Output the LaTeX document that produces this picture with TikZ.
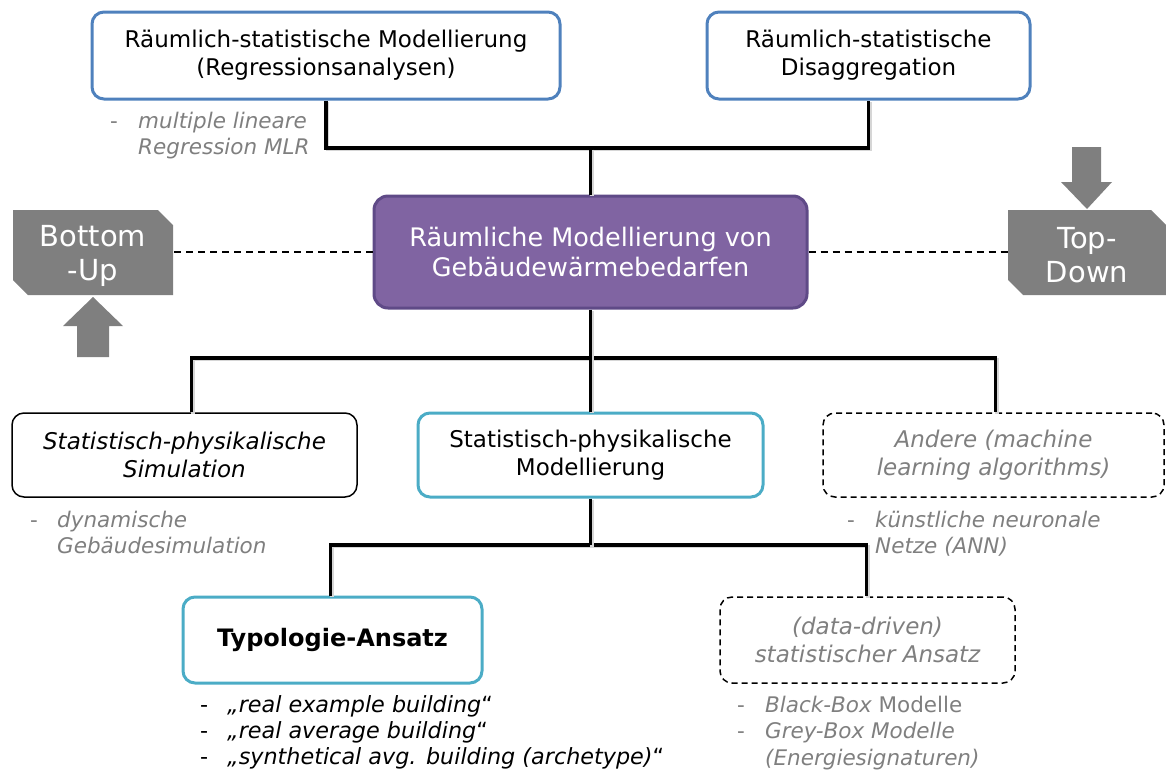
\documentclass[tikz,border=0pt]{standalone}
\usepackage{fontspec}
\setmainfont{DejaVu Sans}
\usetikzlibrary{calc}
\definecolor{frameblue}{HTML}{4F81BD}
\definecolor{framecyan}{HTML}{4BACC6}
\definecolor{violetfill}{HTML}{8064A2}
\definecolor{violetframe}{HTML}{5F4A87}
\definecolor{blockgray}{HTML}{7F7F7F}
\definecolor{notegray}{HTML}{7F7F7F}
\begin{document}
\begin{tikzpicture}[x=1pt,y=-1pt,
  box/.style={rectangle, rounded corners=12pt, align=center, inner sep=0pt,
    font=\fontsize{23}{28}\selectfont},
  bluebox/.style={box, draw=frameblue, line width=3pt},
  cyanbox/.style={box, draw=framecyan, line width=3pt},
  plainbox/.style={box, draw=black, line width=1.5pt},
  dashbox/.style={box, draw=black, line width=1.5pt, dash pattern=on 6pt off 4pt, text=notegray},
  mainbox/.style={box, rounded corners=14pt, fill=violetfill, draw=violetframe, line width=3pt,
    text=white, font=\fontsize{25.5}{30}\selectfont},
  blocklabel/.style={align=center, inner sep=0pt, text=white, font=\fontsize{29}{34}\selectfont},
  note/.style={anchor=base west, inner sep=0pt, font=\fontsize{21.5}{26.5}\selectfont},
  bignote/.style={note, font=\fontsize{22.3}{26}\selectfont},
  conn/.style={line width=3.6pt,
    preaction={draw=black!16, line width=3.6pt, transform canvas={shift={(1.5pt,-1.5pt)}}}},
  dashconn/.style={line width=1.4pt, dash pattern=on 7pt off 5pt},
]
\useasboundingbox (0,0) rectangle (1166,774);

% top level: spatial statistical approaches
\node[bluebox, minimum width=468, minimum height=87] (reg) at (326,55.5)
  {Räumlich-statistische Modellierung\\(Regressionsanalysen)};
\node[bluebox, minimum width=323, minimum height=87] (dis) at (868.5,55.5)
  {Räumlich-statistische\\Disaggregation};

% central topic
\node[mainbox, minimum width=433, minimum height=112] (main) at (590.5,252)
  {Räumliche Modellierung von\\Gebäudewärmebedarfen};

% bottom-up / top-down blocks with their arrows
\fill[blockgray] (13,210) -- (158,210) -- (173,225) -- (173,295) -- (28,295) -- (13,280) -- cycle;
\node[blocklabel, minimum width=160, minimum height=85] (bu) at (93,255.5) {Bottom\\-Up};
\fill[blockgray] (93,297) -- (123,326) -- (109,326) -- (109,357) -- (77,357) -- (77,326) -- (63,326) -- cycle;

\fill[blockgray] (1008,210) -- (1151,210) -- (1166,225) -- (1166,295) -- (1023,295) -- (1008,280) -- cycle;
\node[blocklabel, minimum width=158, minimum height=85] (td) at (1087,255.5) {Top-\\Down};
\fill[blockgray] (1072,147) -- (1101,147) -- (1101,182) -- (1112,182) -- (1087,209) -- (1061,182) -- (1072,182) -- cycle;

% second level
\node[plainbox, minimum width=345, minimum height=84] (sim) at (184.5,455)
  {\itshape Statistisch-physikalische\\\itshape Simulation};
\node[cyanbox, minimum width=345, minimum height=84] (mod) at (590.5,455)
  {Statistisch-physikalische\\Modellierung};
\node[dashbox, minimum width=341, minimum height=84] (ml) at (993.5,455)
  {\itshape Andere (machine\\\itshape learning algorithms)};

% third level
\node[cyanbox, minimum width=299, minimum height=86, font=\fontsize{24}{28}\selectfont] (typ) at (332.5,640)
  {\bfseries Typologie-Ansatz};
\node[dashbox, minimum width=295, minimum height=86] (dat) at (867.5,640)
  {\itshape (data-driven)\\\itshape statistischer Ansatz};

% junctions of the tree connectors
\coordinate (jtop) at (590.5,148);
\coordinate (jmid) at (590.5,358);
\coordinate (jbot) at (590.5,545);

\draw[conn] (reg.south) |- (jtop) -| (dis.south);
\draw[conn] (jtop) -- (main.north);
\draw[conn] ([xshift=7pt]sim.north) |- (jmid) -| ([xshift=2pt]ml.north);
\draw[conn] (main.south) -- (mod.north);
\draw[conn] ([xshift=-2pt]typ.north) |- (jbot) -| ([xshift=-1pt]dat.north);
\draw[conn] (mod.south) -- (jbot);

% horizontal dashed links to the bottom-up / top-down blocks
\draw[dashconn] (main.west) -- (main.west -| bu.east);
\draw[dashconn] (main.east) -- (main.east -| td.west);

% annotations
\node[note, text=notegray] (nreg) at (110,128)
  {\begin{tabular}[t]{@{}p{28pt}@{}l@{}}-&\itshape multiple lineare\\&\itshape Regression MLR\end{tabular}};
\node[note, text=notegray] (nsim) at (30,527)
  {\begin{tabular}[t]{@{}p{27pt}@{}l@{}}-&\itshape dynamische\\&\itshape Gebäudesimulation\end{tabular}};
\node[note, text=notegray] (nml) at (847,527)
  {\begin{tabular}[t]{@{}p{28pt}@{}l@{}}-&\itshape künstliche neuronale\\&\itshape Netze (ANN)\end{tabular}};
\node[bignote] (ntyp) at (200,712)
  {\begin{tabular}[t]{@{}p{27pt}@{}l@{}}-&{\itshape „real example building}“\\
   -&{\itshape „real average building}“\\
   -&{\itshape „synthetical avg. building (archetype)}“\end{tabular}};
\node[note, text=notegray] (ndat) at (737,712)
  {\begin{tabular}[t]{@{}p{28pt}@{}l@{}}-&{\itshape Black-Box} Modelle\\
   -&\itshape Grey-Box Modelle\\
   &\itshape (Energiesignaturen)\end{tabular}};
\end{tikzpicture}
\end{document}
